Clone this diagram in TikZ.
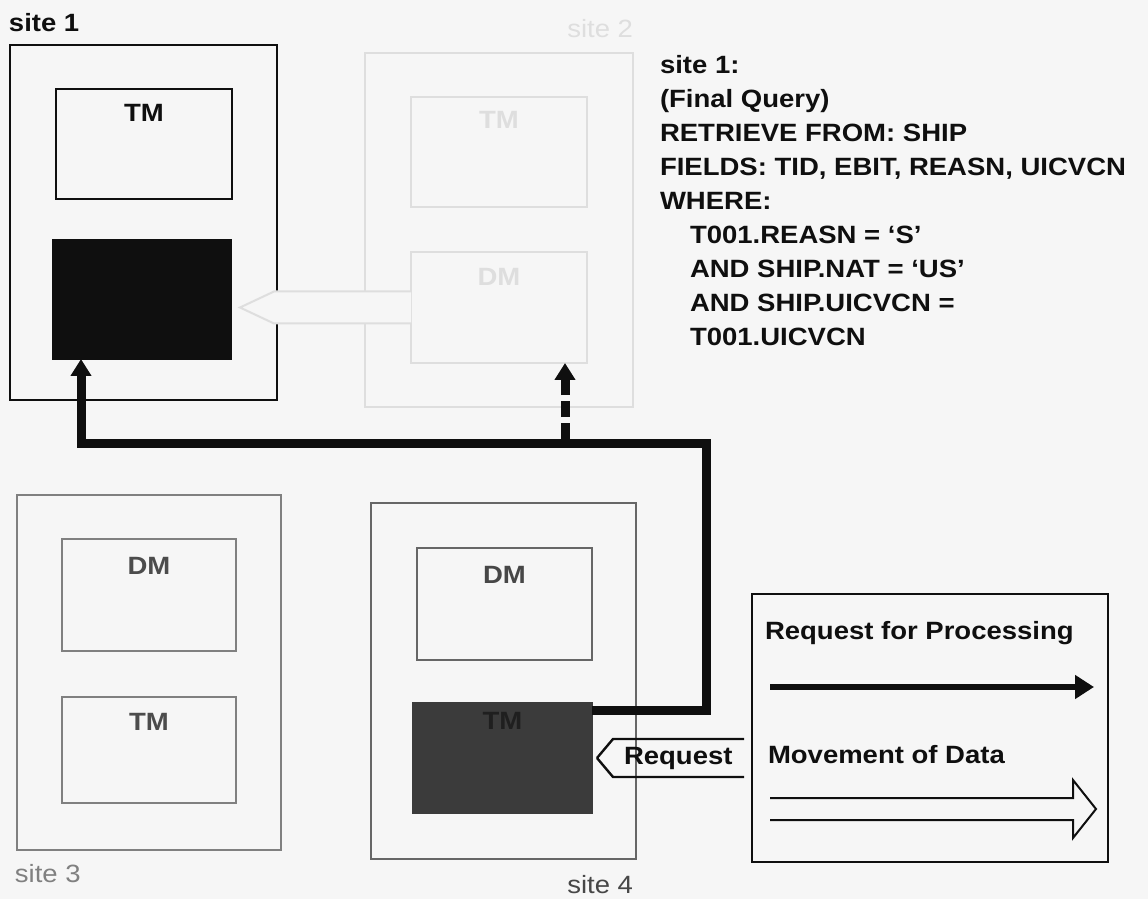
\documentclass[tikz,border=0pt]{standalone}
\usepackage{fontspec}
\setmainfont{Liberation Sans}
\newfontfamily\wideface{Liberation Sans}[FakeStretch=1.1]
\usetikzlibrary{arrows.meta,positioning,calc}
\definecolor{PaperClr}{gray}{0.965}
\definecolor{GhostClr}{gray}{0.87}
\definecolor{FadeClr}{gray}{0.5}
\definecolor{SiteFourClr}{gray}{0.4}
\definecolor{DarkBoxClr}{gray}{0.23}
\definecolor{InkClr}{gray}{0.06}

\begin{document}
\begin{tikzpicture}[x=0.5pt,y=-0.5pt,
  every node/.style={inner sep=0pt,outer sep=0pt},
  sitebox/.style={draw,line width=1pt},
  modbox/.style={draw,line width=1pt,minimum width=88pt,minimum height=55pt},
  boxlbl/.style={font=\wideface\fontsize{12.5}{15}\selectfont\bfseries},
  sitelbl/.style={font=\wideface\fontsize{12.5}{15}\selectfont},
  textlbl/.style={font=\wideface\fontsize{12.5}{17}\selectfont\bfseries},
  procline/.style={line width=4.5pt,-{Triangle[width=10pt,length=8.5pt]}},
  dataline/.style={line width=1pt,line join=miter}]

\fill[PaperClr] (0,0) rectangle (1148,899);
\useasboundingbox (0,0) rectangle (1148,899);

% site 2 (faded)
\node[sitebox,draw=GhostClr,minimum width=134pt,minimum height=177pt] (s2) at (499,230) {};
\node[modbox,draw=GhostClr] (tm2) at (499,152.5) {};
\node[modbox,draw=GhostClr,minimum height=55.5pt] (dm2) at (499,307.5) {};
\node[boxlbl,text=GhostClr,below=7pt of tm2.north] {TM};
\node[boxlbl,text=GhostClr,below=8pt of dm2.north] {DM};
\node[sitelbl,text=GhostClr,anchor=base east] at (633,38) {site 2};

% site 3
\node[sitebox,draw=FadeClr,minimum width=132pt,minimum height=177.5pt] (s3) at (149,672.5) {};
\node[modbox,draw=FadeClr,minimum width=87pt,minimum height=56pt] (dm3) at (149,595) {};
\node[modbox,draw=FadeClr,minimum width=87pt,minimum height=53pt] (tm3) at (149,750) {};
\node[boxlbl,text=black!70,below=9pt of dm3.north] {DM};
\node[boxlbl,text=black!70,below=8pt of tm3.north] {TM};
\node[sitelbl,text=FadeClr,anchor=base west] at (15,882) {site 3};

% site 4
\node[sitebox,draw=SiteFourClr,minimum width=132.5pt,minimum height=178pt] (s4) at (503.5,681) {};
\node[modbox,draw=SiteFourClr,minimum width=87.5pt,minimum height=56pt] (dm4) at (504.5,604) {};
\node[modbox,draw=DarkBoxClr,fill=DarkBoxClr,minimum width=89.5pt,minimum height=55pt] (tm4) at (502.5,758) {};
\node[boxlbl,text=black!72,below=9pt of dm4.north] {DM};
\node[boxlbl,text=black!88,below=4.5pt of tm4.north] {TM};
\node[sitelbl,text=black!72,anchor=base east] at (633,893) {site 4};

% site 1
\node[sitebox,draw=InkClr,minimum width=133.5pt,minimum height=177.5pt] (s1) at (143.5,222.5) {};
\node[modbox,draw=InkClr] (tm1) at (144,144) {};
\node[modbox,draw=InkClr,fill=InkClr,minimum width=89pt,minimum height=59.5pt] (dm1) at (142,299.5) {};
\node[boxlbl,text=InkClr,below=7.5pt of tm1.north] {TM};
\node[sitelbl,text=InkClr,font=\wideface\fontsize{12.5}{15}\selectfont\bfseries,anchor=base west] at (9,32) {site 1};

% data moved from site 2 to site 1
\draw[line width=1pt,draw=GhostClr,fill=PaperClr]
  ([yshift=8pt]dm2.west) -- ++(-137,0) -- ++(-34,16) -- ++(34,16) -- ++(137,0);

% request for processing
\coordinate (hub) at (706,443);
\coordinate (tap) at (565,439);
\draw[procline,draw=InkClr] ([yshift=-3.5pt]tm4.north east) -| (hub) -| ([xshift=14pt]dm1.south west);
\draw[procline,draw=InkClr,dash pattern=on 8pt off 3pt] (tap) -- (tap |- dm2.south);

% request into site 4
\draw[line width=1.2pt,draw=InkClr] ([xshift=2.5pt]tm4.east) coordinate (reqtip)
  -- ++(16,-19) -- ++(131,0);
\draw[line width=1.2pt,draw=InkClr] (reqtip) -- ++(16,19) -- ++(131,0);
\node[textlbl,text=InkClr,anchor=base west] (req) at (624,764) {Request};

% final query
\node[textlbl,text=InkClr,align=left,anchor=north west] (query) at (660,55) {site 1:\\
(Final Query)\\
RETRIEVE FROM: SHIP\\
FIELDS: TID, EBIT, REASN, UICVCN\\
WHERE:\\
\hspace*{15pt}T001.REASN = ‘S’\\
\hspace*{15pt}AND SHIP.NAT = ‘US’\\
\hspace*{15pt}AND SHIP.UICVCN =\\
\hspace*{15pt}T001.UICVCN};

% legend
\node[draw=InkClr,line width=1.2pt,minimum width=178pt,minimum height=134pt] (legend) at (930,728) {};
\node[textlbl,text=InkClr,anchor=base west] (lgproc) at (765,639) {Request for Processing};
\node[textlbl,text=InkClr,anchor=base west] (lgdata) at (768,763) {Movement of Data};
\draw[line width=3pt,draw=InkClr,-{Triangle[width=11.5pt,length=9.5pt]}] (770,687) -- (1094,687);
\draw[dataline,draw=InkClr] (770,798) -- (1073,798) -- (1073,780) -- (1096,809)
  -- (1073,838) -- (1073,820) -- (770,820);

\end{tikzpicture}
\end{document}
